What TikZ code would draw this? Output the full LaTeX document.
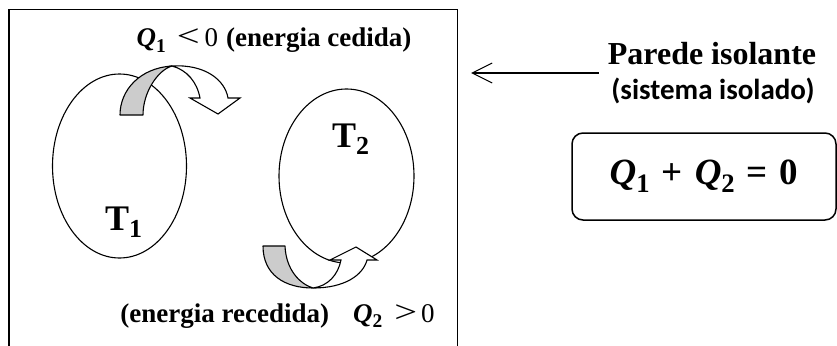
\documentclass[tikz,border=0pt]{standalone}
\usepackage{fontspec}
\setmainfont{Liberation Serif}
\newfontfamily\carlitobf{Carlito}[UprightFont={* Bold}]
\usepackage{tikz}
\usetikzlibrary{arrows.meta,
positioning,
shapes.geometric,
calc}

% lowered index, as in T_1 or Q_1
\newcommand\idx[1]{\raisebox{-0.22em}{\scalebox{0.72}{#1}}}
\newcommand\heat[1]{\textit{Q}\idx{#1}}
\newcommand\rel[1]{\textmd{\scalebox{1.5}[1.15]{#1}}}

\begin{document}
\begin{tikzpicture}[
x=1pt, y=-1pt,
body/.style={
draw,
ellipse,
line width=1.1pt,
inner sep=0pt
},
backface/.style={draw, line width=1.1pt, fill=black!20, line join=round},
frontface/.style={draw, line width=1.1pt, fill=white},
tlabel/.style={font=\bfseries\fontsize{36}{40}\selectfont, inner sep=0pt},
heatlabel/.style={font=\bfseries\fontsize{27}{30}\selectfont, inner sep=0pt},
>=Stealth
]
\useasboundingbox (0,0) rectangle (837,345);

% container, open at the bottom
\draw[line width=1.6pt] (9,350) |- (457.5,9.5) -- (457.5,350);

\node[body, minimum width=134pt, minimum height=184pt] (hot) at (119.5,166) {};
\node[body, minimum width=135pt, minimum height=174pt] (cold) at (346.5,176) {};

\node[tlabel, anchor=base west] (hotT) at (105,230) {T\idx{1}};
\node[tlabel, anchor=base west] (coldT) at (332,147) {T\idx{2}};

% heat leaving body 1
\draw[backface] (120,115) .. controls (120,90) and (140,68) .. (172,66)
  .. controls (158,70) and (143,92) .. (143,115) -- cycle;
\draw[frontface] (172,66) .. controls (205,64) and (225,80) .. (228,98)
  -- (240,98) -- (218,114) -- (190,98) -- (200,98)
  .. controls (197,82) and (187,70) .. (172,66) -- cycle;

% heat entering body 2
\draw[backface] (263,246) .. controls (263,275) and (285,288) .. (313,288)
  .. controls (300,284) and (286,270) .. (285,246) -- cycle;
\draw[frontface] (313,288) .. controls (345,288) and (363,275) .. (367,260)
  -- (377,260) -- (356,247) -- (330,260) -- (341,260)
  .. controls (338,275) and (328,286) .. (313,288) -- cycle;

\node[heatlabel, anchor=base] (given) at (274,47)
  {\heat{1}\hspace{11pt}\rel{<}\hspace{5pt}\textmd{0}\hspace{8pt}(energia cedida)};
\node[heatlabel, anchor=base] (taken) at (277.5,322)
  {(energia recedida)\hspace{24pt}\heat{2}\hspace{12pt}\rel{>}\hspace{4pt}\textmd{0}};

\node[font=\bfseries\fontsize{32}{36}\selectfont, anchor=base, inner sep=0pt] (wallname) at (712,64.5) {Parede isolante};
\node[font=\carlitobf\fontsize{29}{34}\selectfont, anchor=base, inner sep=0pt] (wallnote) at (713,99) {(sistema isolado)};
\coordinate (wall) at (471,73);
\draw[line width=1.1pt, -{Straight Barb[length=20pt,width=20pt]}] ($(wallname.west |- wall)+(-9,0)$) -- (wall);

\node[draw, line width=1.5pt, rounded corners=11pt, minimum width=264pt, minimum height=87pt,
  font=\bfseries\fontsize{37}{42}\selectfont] (balance) at (704,176.5)
  {\heat{1}\hspace{12pt}+\hspace{12pt}\heat{2}\hspace{12pt}=\hspace{12pt}0};

\end{tikzpicture}
\end{document}
